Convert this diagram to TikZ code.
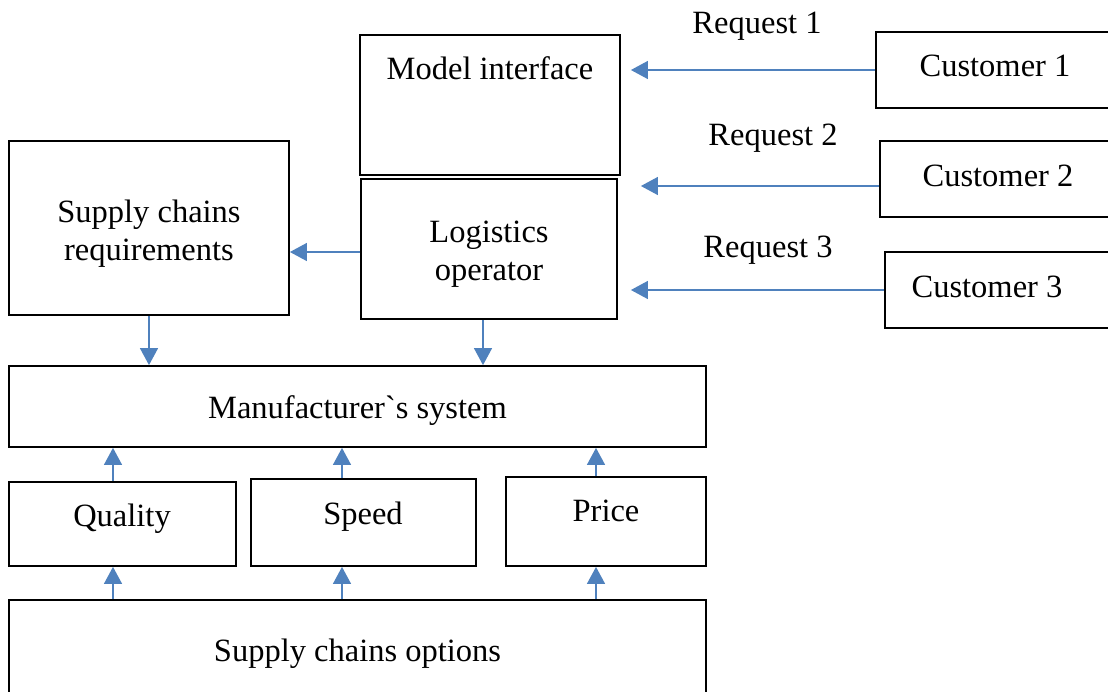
\documentclass[tikz,border=0pt]{standalone}
\usepackage{fontspec}
\setmainfont{Liberation Serif}
\usepackage{xcolor}
\usetikzlibrary{arrows.meta}

\definecolor{arrowblue}{RGB}{79,129,189}

\tikzset{
  box/.style={draw=black, line width=1.8pt, rectangle, align=center, inner sep=0pt},
  link/.style={draw=arrowblue, line width=1.3pt, -{Triangle[width=18pt,length=17pt]}},
  txt/.style={inner sep=0pt, align=center}
}

\begin{document}
\begin{tikzpicture}[x=1pt, y=-1pt, font=\fontsize{32.5}{38}\selectfont]
  \useasboundingbox (0,0) rectangle (1108,691);
  \clip (0,0) rectangle (1108,691);

  % upper boxes
  \node[box, minimum width=260pt, minimum height=140pt] (model) at (490,105) {};
  \node[txt] (modeltxt) at (490,68) {Model interface};
  \node[box, minimum width=256pt, minimum height=140pt] (logop) at (489,249) {};
  \node[txt] (logoptxt) at (489,254) {Logistics\\operator};
  \node[box, minimum width=280pt, minimum height=174pt] (screq) at (149,228) {};
  \node[txt] (screqtxt) at (149,234) {Supply chains\\requirements};

  % customers
  \node[box, minimum width=238pt, minimum height=76pt] (cust1) at (995,70) {};
  \node[txt] (cust1txt) at (995,66) {Customer 1};
  \node[box, minimum width=236pt, minimum height=76pt] (cust2) at (998,179) {};
  \node[txt] (cust2txt) at (998,176) {Customer 2};
  \node[box, minimum width=240pt, minimum height=76pt] (cust3) at (1005,290) {};
  \node[txt] (cust3txt) at (987,287) {Customer 3};

  \node[txt] (req1) at (757,26) {Request 1};
  \node[txt] (req2) at (773,138) {Request 2};
  \node[txt] (req3) at (768,250) {Request 3};

  % lower boxes
  \node[box, minimum width=697pt, minimum height=81pt] (manuf) at (357.5,406.5) {};
  \node[txt] (manuftxt) at (357.5,411) {Manufacturer\textasciigrave s system};
  \node[box, minimum width=227pt, minimum height=84pt] (quality) at (122.5,524) {};
  \node[txt] (qualitytxt) at (122,519) {Quality};
  \node[box, minimum width=225pt, minimum height=87pt] (speed) at (363.5,522.5) {};
  \node[txt] (speedtxt) at (363,517) {Speed};
  \node[box, minimum width=200pt, minimum height=89pt] (price) at (606,521.5) {};
  \node[txt] (pricetxt) at (606,511) {Price};
  \node[box, minimum width=697pt, minimum height=110pt] (options) at (357.5,655) {};
  \node[txt] (optionstxt) at (357.5,654) {Supply chains options};

  % requests
  \draw[link, shorten >=10pt] (cust1.west) -- (model.east |- cust1.west);
  \draw[link, shorten >=23pt] ([yshift=-7pt]cust2.west) -- ([yshift=-7pt]logop.east |- cust2.west);
  \draw[link, shorten >=13pt] (cust3.west) -- (logop.east |- cust3.west);

  % operator
  \draw[link] ([yshift=-3pt]logop.west) -- ([yshift=-3pt]screq.east |- logop.west);
  \draw[link] (screq.south) -- (screq.south |- manuf.north);
  \draw[link] ([xshift=-6pt]logop.south) -- ([xshift=-6pt]logop.south |- manuf.north);

  % criteria
  \draw[link] ([xshift=-9.5pt]quality.north) -- ([xshift=-9.5pt]quality.north |- manuf.south);
  \draw[link] ([xshift=-21.5pt]speed.north) -- ([xshift=-21.5pt]speed.north |- manuf.south);
  \draw[link] ([xshift=-10pt]price.north) -- ([xshift=-10pt]price.north |- manuf.south);
  \draw[link] ([xshift=-9.5pt]quality.south |- options.north) -- ([xshift=-9.5pt]quality.south);
  \draw[link] ([xshift=-21.5pt]speed.south |- options.north) -- ([xshift=-21.5pt]speed.south);
  \draw[link] ([xshift=-10pt]price.south |- options.north) -- ([xshift=-10pt]price.south);
\end{tikzpicture}
\end{document}
